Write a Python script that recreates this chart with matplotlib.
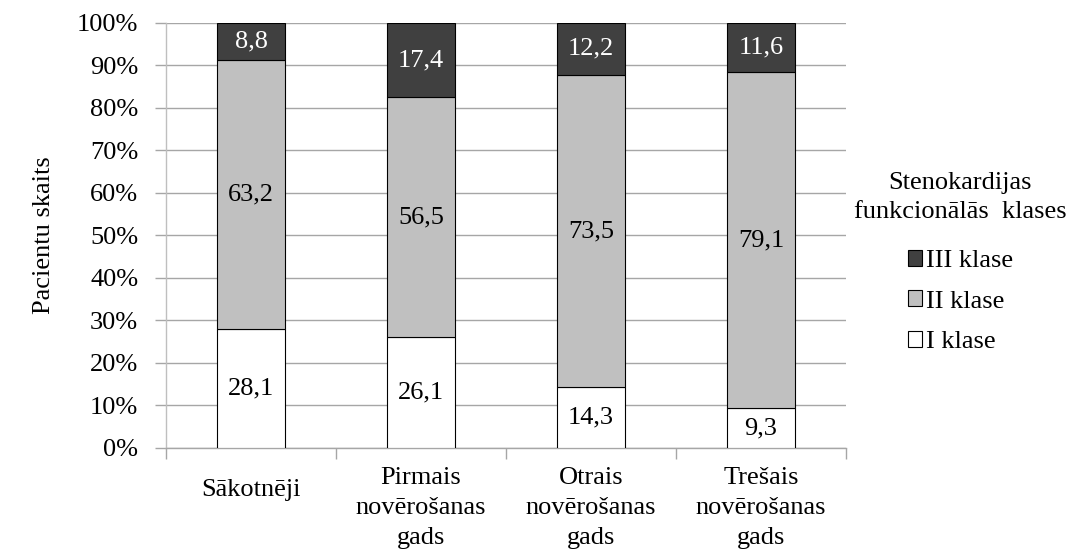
import numpy as np
import matplotlib
matplotlib.use('Agg')
import matplotlib.pyplot as plt
from matplotlib import font_manager as fm
from matplotlib.patches import Patch
from matplotlib.ticker import FixedLocator
from matplotlib.transforms import ScaledTranslation

fs = 19
SERIF_PATH = fm.findfont(fm.FontProperties(family='Liberation Serif'))
FP = fm.FontProperties(fname=SERIF_PATH, size=fs)

# Patient share per functional class (%)
categories = ['Sākotnēji', 'Pirmais\nnovērošanas\ngads',
              'Otrais\nnovērošanas\ngads', 'Trešais\nnovērošanas\ngads']
class_i = [28.1, 26.1, 14.3, 9.3]
class_ii = [63.2, 56.5, 73.5, 79.1]
class_iii = [8.8, 17.4, 12.2, 11.6]
series_names = ['I klase', 'II klase', 'III klase']
yticks = [0, 10, 20, 30, 40, 50, 60, 70, 80, 90, 100]

colors = ['#ffffff', '#c0c0c0', '#404040']
text_colors = ['black', 'black', 'white']

fig = plt.figure(figsize=(10.67, 5.55), dpi=100)
ax = fig.add_axes([0.1556, 0.1928, 0.6373, 0.7658])

x = np.arange(len(categories))
bottom = np.zeros(len(categories))
handles = []
for vals, col, tcol, name in zip([class_i, class_ii, class_iii],
                                 colors, text_colors, series_names):
    vals = np.array(vals)
    top = np.minimum(bottom + vals, 100)
    ax.bar(x, top - bottom, 0.4, bottom=bottom, color=col,
           edgecolor='black', linewidth=0.8, zorder=3)
    for xi, b, t, v in zip(x, bottom, top, vals):
        ax.text(xi, (b + t) / 2, f'{v:.1f}'.replace('.', ','), fontproperties=FP,
                ha='center', va='center', color=tcol, zorder=4)
    handles.append(Patch(facecolor=col, edgecolor='black', linewidth=0.8, label=name))
    bottom = top

ax.set_xlim(-0.5, len(categories) - 0.5)
ax.set_ylim(0, 100)
ax.set_yticks(yticks)
ax.set_yticklabels([f'{v}%' for v in yticks], fontproperties=FP)
ax.set_xticks(x)
ax.set_xticklabels(categories, fontproperties=FP)
ax.xaxis.set_minor_locator(FixedLocator(np.arange(-0.5, len(categories), 1.0)))
ax.tick_params(axis='x', which='major', length=0, pad=14)
ax.tick_params(axis='x', which='minor', length=8, color='#a6a6a6', width=1)
ax.tick_params(axis='y', length=8, color='#a6a6a6', width=1, pad=12)

for i, lbl in enumerate(ax.get_xticklabels()):
    lbl.set_linespacing(1.45)
    if '\n' not in categories[i]:
        # single-line label sits a little lower
        lbl.set_transform(lbl.get_transform() + ScaledTranslation(0, -8 / 72, fig.dpi_scale_trans))

ax.yaxis.grid(True, color='#a6a6a6', linewidth=1, zorder=0)
for side in ['top', 'right']:
    ax.spines[side].set_visible(False)
ax.spines['left'].set_color('#bfbfbf')
ax.spines['bottom'].set_color('#a6a6a6')
ax.spines['left'].set_linewidth(1)
ax.spines['bottom'].set_linewidth(1)

ax.set_ylabel('Pacientu skaits', fontproperties=FP, labelpad=16)

leg = ax.legend(handles=handles[::-1], title='Stenokardijas\nfunkcionālās  klases',
                loc='center', bbox_to_anchor=(0.9, 0.527), bbox_transform=fig.transFigure,
                frameon=False, prop=FP, title_fontproperties=FP,
                handlelength=0.55, handleheight=0.55, handletextpad=0.15,
                labelspacing=0.7)
leg.get_title().set_multialignment('center')
leg.get_title().set_linespacing(1.45)
leg._legend_box.sep = 19

fig.savefig('out.png', dpi=100)
